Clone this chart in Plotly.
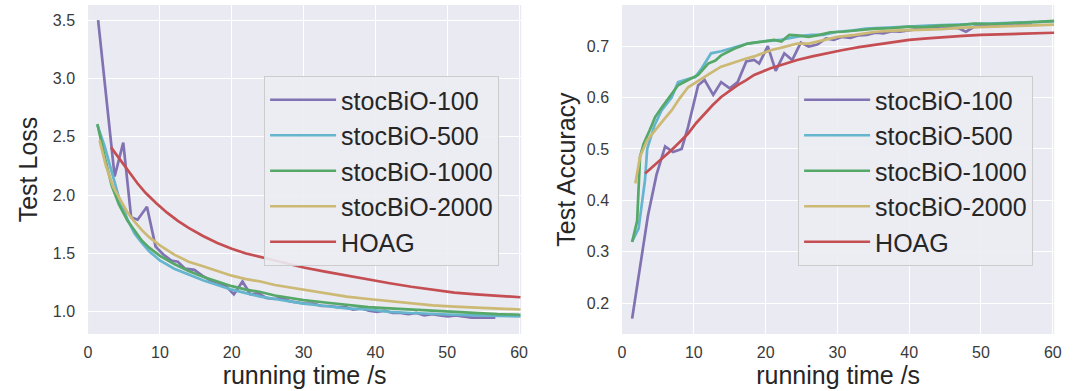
import plotly.graph_objects as go

# ---------------- Data: Test Loss ----------------
t_loss_100 = [1.4, 2.5, 3.7, 4.9, 6.0, 6.9, 8.2, 9.4, 10.5, 11.6, 12.5, 13.5, 14.8, 15.9, 17.0, 18.1,
              19.2, 20.3, 21.5, 22.6, 23.7, 24.8, 25.9, 27.0, 28.1, 29.2, 30.3, 31.4, 32.5, 33.6, 34.7,
              35.8, 36.9, 38.0, 39.1, 40.2, 41.3, 42.4, 43.5, 44.6, 45.7, 46.8, 47.9, 49.0, 50.1, 51.2,
              52.3, 53.4, 54.5, 55.6, 56.7]
loss_100 = [3.5, 2.85, 2.16, 2.45, 1.81, 1.79, 1.90, 1.56, 1.49, 1.44, 1.43, 1.37, 1.36, 1.31, 1.27, 1.25,
            1.22, 1.15, 1.26, 1.15, 1.16, 1.12, 1.11, 1.12, 1.09, 1.08, 1.07, 1.07, 1.05, 1.05, 1.04,
            1.04, 1.02, 1.03, 1.01, 1.00, 1.01, 0.99, 0.99, 0.98, 0.99, 0.97, 0.98, 0.97, 0.96, 0.97,
            0.96, 0.95, 0.95, 0.95, 0.95]

t_loss_500 = [1.3, 2.3, 3.3, 4.3, 5.5, 6.5, 7.5, 8.5, 10, 12, 14, 16, 18, 20, 22, 24, 26, 28, 30, 33,
              36, 39, 42, 45, 48, 51, 54, 57, 60.2]
loss_500 = [2.60, 2.42, 2.20, 1.98, 1.79, 1.67, 1.59, 1.52, 1.44, 1.37, 1.32, 1.27, 1.23, 1.19, 1.16,
            1.13, 1.11, 1.09, 1.07, 1.05, 1.03, 1.02, 1.00, 0.99, 0.98, 0.975, 0.97, 0.965, 0.96]

t_loss_1000 = [1.3, 2.3, 3.3, 4.3, 5.5, 6.5, 7.5, 8.5, 10, 12, 14, 16, 18, 20, 22, 24, 26, 28, 30, 33,
               36, 39, 42, 45, 48, 51, 54, 57, 60.2]
loss_1000 = [2.61, 2.33, 2.08, 1.92, 1.78, 1.69, 1.61, 1.55, 1.48, 1.41, 1.35, 1.30, 1.26, 1.22, 1.19,
             1.17, 1.14, 1.12, 1.10, 1.08, 1.06, 1.04, 1.03, 1.02, 1.005, 0.995, 0.99, 0.98, 0.975]

t_loss_2000 = [1.6, 2.5, 3.5, 4.6, 5.5, 6.5, 7.5, 8.5, 10, 12, 14, 16, 18, 20, 22, 24, 26, 28, 30, 33,
               36, 39, 42, 45, 48, 51, 54, 57, 60.2]
loss_2000 = [2.47, 2.25, 2.07, 1.95, 1.85, 1.77, 1.70, 1.64, 1.57, 1.49, 1.43, 1.39, 1.35, 1.31, 1.28,
             1.26, 1.23, 1.21, 1.19, 1.16, 1.13, 1.11, 1.09, 1.07, 1.055, 1.045, 1.035, 1.025, 1.02]

t_loss_hoag = [3.2, 4.5, 5.5, 6.9, 8, 9.5, 11, 12.5, 14, 16, 18, 20, 22, 24, 26, 28, 30, 33, 36, 39,
               42, 45, 48, 51, 54, 57, 60.2]
loss_hoag = [2.41, 2.30, 2.22, 2.10, 2.02, 1.93, 1.85, 1.78, 1.72, 1.65, 1.59, 1.54, 1.50, 1.47, 1.44,
             1.41, 1.38, 1.345, 1.31, 1.275, 1.245, 1.215, 1.19, 1.165, 1.15, 1.135, 1.125]

# ---------------- Data: Test Accuracy ----------------
t_acc_100 = [1.4, 2.5, 3.6, 4.8, 6.0, 7.1, 8.3, 9.2, 10.6, 11.5, 12.7, 13.8, 15.0, 16.1, 17.3, 18.4,
             19.1, 20.3, 21.4, 22.6, 23.7, 24.9, 26.0, 27.2, 28.4, 29.5, 30.6, 31.8, 33.0, 34.1, 35.3,
             36.4, 37.6, 38.7, 39.9, 41.0, 42.2, 43.3, 44.5, 45.6, 46.8, 47.9, 49.1, 50.2, 51.4, 52.5,
             53.7, 54.8, 56.0, 57.1]
acc_100 = [0.17, 0.27, 0.37, 0.45, 0.505, 0.494, 0.50, 0.543, 0.624, 0.634, 0.605, 0.63, 0.618, 0.63,
           0.67, 0.673, 0.666, 0.70, 0.652, 0.686, 0.673, 0.707, 0.699, 0.703, 0.715, 0.712, 0.718,
           0.716, 0.721, 0.722, 0.726, 0.725, 0.729, 0.728, 0.731, 0.733, 0.732, 0.735, 0.734, 0.736,
           0.735, 0.728, 0.738, 0.739, 0.738, 0.740, 0.741, 0.740, 0.742, 0.742]

t_acc_500 = [1.4, 2.3, 3.2, 3.5, 4.5, 5.5, 6.9, 7.8, 9.2, 10.2, 11.1, 12.4, 13.8, 15.6, 16.5, 17.5, 19,
             20.5, 22, 23.5, 25, 26.5, 28, 30, 32, 34, 36, 38, 40, 42.5, 45, 47.5, 50, 52.5, 55, 57.5,
             60.2]
acc_500 = [0.32, 0.345, 0.44, 0.50, 0.545, 0.575, 0.60, 0.63, 0.636, 0.64, 0.657, 0.686, 0.69, 0.697,
           0.70, 0.705, 0.708, 0.710, 0.712, 0.716, 0.72, 0.722, 0.722, 0.728, 0.73, 0.734, 0.735,
           0.737, 0.738, 0.74, 0.741, 0.742, 0.744, 0.745, 0.746, 0.747, 0.748]

t_acc_1000 = [1.4, 2.1, 2.5, 3.0, 3.8, 4.6, 5.5, 6.5, 7.8, 9.2, 10.6, 12.0, 13.0, 13.8, 15.6, 17.5,
              19.3, 21.2, 22.2, 23.3, 24.4, 26.0, 27.5, 29.0, 30.6, 32.5, 35.3, 37.5, 39.9, 42, 44.5,
              47, 49.1, 51.5, 53.7, 56, 58, 60.2]
acc_1000 = [0.319, 0.36, 0.485, 0.51, 0.535, 0.562, 0.58, 0.60, 0.624, 0.634, 0.644, 0.666, 0.672,
            0.682, 0.695, 0.705, 0.708, 0.712, 0.709, 0.722, 0.721, 0.718, 0.722, 0.727, 0.728, 0.731,
            0.734, 0.735, 0.738, 0.737, 0.740, 0.741, 0.744, 0.743, 0.745, 0.746, 0.747, 0.749]

t_acc_2000 = [1.85, 2.5, 3.5, 4.6, 5.7, 6.9, 8, 9.2, 10.3, 11.5, 12.6, 13.8, 15, 16.1, 17.3, 18.4, 19.5,
              20.7, 22.5, 24.4, 26, 28, 30, 32.5, 35.3, 38, 41, 44.5, 47.5, 50.5, 53.5, 56.5, 60.2]
acc_2000 = [0.433, 0.485, 0.517, 0.537, 0.555, 0.575, 0.598, 0.62, 0.63, 0.64, 0.65, 0.66, 0.666, 0.67,
            0.676, 0.68, 0.686, 0.692, 0.698, 0.705, 0.705, 0.712, 0.718, 0.722, 0.728, 0.730, 0.731,
            0.733, 0.736, 0.737, 0.739, 0.740, 0.742]

t_acc_hoag = [3.2, 4.5, 5.7, 6.9, 8, 9.2, 10.3, 11.5, 12.6, 13.8, 15, 16.1, 17.3, 18.4, 20.7, 22.5,
              24.4, 26.5, 28.5, 30.6, 33, 35.5, 38, 40, 42.5, 45, 47.5, 50, 52.5, 55, 57.5, 60.2]
acc_hoag = [0.452, 0.468, 0.483, 0.498, 0.513, 0.53, 0.55, 0.569, 0.585, 0.601, 0.613, 0.624, 0.634,
            0.644, 0.657, 0.665, 0.673, 0.68, 0.686, 0.692, 0.698, 0.703, 0.708, 0.712, 0.715, 0.718,
            0.72, 0.722, 0.723, 0.724, 0.725, 0.726]

names = ["stocBiO-100", "stocBiO-500", "stocBiO-1000", "stocBiO-2000", "HOAG"]
colors = ["#8172B2", "#64B5CD", "#55A868", "#CCB974", "#C44E52"]

loss_series = [(t_loss_100, loss_100), (t_loss_500, loss_500), (t_loss_1000, loss_1000),
               (t_loss_2000, loss_2000), (t_loss_hoag, loss_hoag)]
acc_series = [(t_acc_100, acc_100), (t_acc_500, acc_500), (t_acc_1000, acc_1000),
              (t_acc_2000, acc_2000), (t_acc_hoag, acc_hoag)]

fig = go.Figure()
for (tx, ty), nm, c in zip(loss_series, names, colors):
    fig.add_trace(go.Scatter(x=tx, y=ty, mode="lines", name=nm, line=dict(color=c, width=2.7),
                             xaxis="x", yaxis="y", legend="legend"))
for (tx, ty), nm, c in zip(acc_series, names, colors):
    fig.add_trace(go.Scatter(x=tx, y=ty, mode="lines", name=nm, line=dict(color=c, width=2.7),
                             xaxis="x2", yaxis="y2", legend="legend2"))

FONT = "Liberation Sans, Arial, sans-serif"
tick_font = dict(family=FONT, size=16, color="#3a3a3a")
title_font = dict(family=FONT, size=25, color="#262626")

axis_common = dict(showgrid=True, gridcolor="white", gridwidth=1.4, zeroline=False, showline=False,
                   ticks="", tickfont=tick_font)

W, H = 1082, 391
ydom = [1 - 334 / H, 1 - 5 / H]

legend_common = dict(xanchor="left", yanchor="top",
                     bgcolor="rgba(236,236,243,0.9)", bordercolor="#CCCCCC", borderwidth=1,
                     font=dict(family=FONT, size=25, color="#262626"), itemwidth=66)

fig.update_layout(
    width=W, height=H,
    margin=dict(l=0, r=0, t=0, b=0),
    paper_bgcolor="white", plot_bgcolor="#EAEAF2",
    font=dict(family=FONT),
    xaxis=dict(axis_common, domain=[85 / W, 523 / W], range=[0, 60.3], ticklabelstandoff=7,
               tickvals=[0, 10, 20, 30, 40, 50, 60],
               title=dict(text="running time /s", font=title_font, standoff=4)),
    yaxis=dict(axis_common, domain=ydom, range=[0.81, 3.63], ticklabelstandoff=12,
               tickvals=[1.0, 1.5, 2.0, 2.5, 3.0, 3.5],
               tickformat=".1f", title=dict(text="Test Loss", font=title_font, standoff=8)),
    xaxis2=dict(axis_common, domain=[625 / W, 1062 / W], range=[0, 60.2], ticklabelstandoff=7,
                tickvals=[0, 10, 20, 30, 40, 50, 60], anchor="y2",
                title=dict(text="running time /s", font=title_font, standoff=4)),
    yaxis2=dict(axis_common, domain=ydom, range=[0.14, 0.78], ticklabelstandoff=12,
                tickvals=[0.2, 0.3, 0.4, 0.5, 0.6, 0.7],
                tickformat=".1f", anchor="x2",
                title=dict(text="Test Accuracy", font=title_font, standoff=4)),
    legend=dict(legend_common, x=263 / W, y=1 - 76 / H),
    legend2=dict(legend_common, x=803 / W, y=1 - 76 / H),
)

fig.write_html("out.html", config={"displayModeBar": False},
               post_script="document.body.style.margin='0';document.body.style.overflow='hidden';")
